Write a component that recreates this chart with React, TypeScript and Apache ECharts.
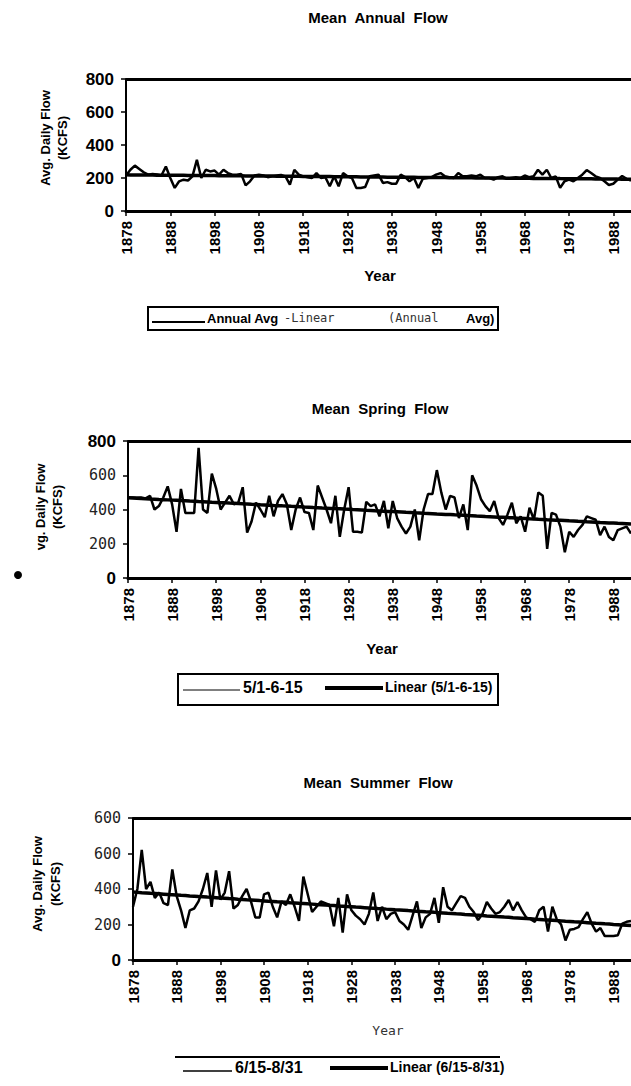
import React, { useEffect, useRef } from "react";
import * as echarts from "echarts";

const FIRST_YEAR = 1878;
const LAST_YEAR = 1992;
const years: string[] = [];
for (let y = FIRST_YEAR; y <= LAST_YEAR; y++) years.push(String(y));

// Mean annual flow (KCFS), 1878-1992
const annualAvg = [
  215, 250, 275, 255, 235, 220, 225, 222, 215, 270,
  200, 140, 180, 190, 185, 210, 310, 200, 250, 240,
  245, 220, 250, 230, 220, 220, 225, 155, 180, 215,
  220, 215, 205, 210, 215, 218, 210, 160, 250, 220,
  210, 205, 200, 230, 200, 205, 150, 210, 150, 230,
  210, 200, 140, 140, 145, 210, 215, 220, 170, 175,
  165, 165, 220, 205, 180, 200, 140, 195, 200, 205,
  220, 230, 210, 205, 200, 230, 210, 210, 215, 210,
  220, 200, 200, 190, 205, 210, 195, 200, 205, 200,
  215, 205, 210, 250, 220, 250, 200, 210, 140, 180,
  190, 180, 200, 220, 248, 230, 210, 200, 180, 158,
  165, 190, 212, 195, 185,
];

// Mean spring flow 5/1-6/15 (KCFS)
const springFlow = [
  470, 470, 468, 470, 465, 480, 400, 420, 470, 535,
  430, 270, 520, 380, 380, 380, 760, 400, 380, 610,
  520, 400, 440, 480, 430, 440, 530, 265, 330, 440,
  400, 355, 480, 360, 450, 490, 430, 280, 400, 470,
  385, 380, 280, 540, 470, 400, 320, 480, 240, 400,
  530, 270, 270, 265, 445, 420, 430, 360, 450, 290,
  450, 350, 300, 260, 300, 400, 220, 400, 490, 490,
  630, 500, 400, 480, 470, 350, 430, 280, 600, 540,
  460, 420, 390, 450, 350, 310, 370, 440, 320, 360,
  270, 410, 340, 500, 480, 170, 380, 370, 300, 150,
  270, 240, 280, 310, 360, 350, 340, 250, 300, 240,
  220, 280, 290, 300, 260,
];

// Mean summer flow 6/15-8/31 (KCFS)
const summerFlow = [
  300, 400, 620, 400, 440, 350, 380, 320, 310, 510,
  360, 280, 180, 280, 290, 330, 400, 490, 300, 505,
  340, 380, 500, 290, 310, 360, 400, 330, 240, 240,
  370, 380, 300, 240, 330, 310, 370, 300, 220, 470,
  370, 270, 300, 330, 320, 310, 190, 350, 155, 370,
  280, 250, 230, 200, 260, 380, 220, 300, 230, 260,
  270, 220, 200, 170, 250, 330, 180, 240, 260, 350,
  210, 410, 300, 280, 320, 360, 350, 300, 270, 225,
  260, 327, 290, 260, 270, 300, 338, 280, 327, 280,
  240, 230, 215, 280, 300, 160, 300, 230, 200, 110,
  170, 175, 185, 230, 270, 205, 160, 180, 135, 135,
  135, 140, 205, 215, 220,
];

const yTicks12 = ["0", "200", "400", "600", "800"];
const yTicks3 = ["0", "200", "400", "600", "600"];

function linearFit(vals: number[]): number[] {
  const n = vals.length;
  let sx = 0, sy = 0, sxy = 0, sxx = 0;
  for (let i = 0; i < n; i++) {
    sx += i; sy += vals[i]; sxy += i * vals[i]; sxx += i * i;
  }
  const slope = (n * sxy - sx * sy) / (n * sxx - sx * sx);
  const icpt = (sy - slope * sx) / n;
  return vals.map((_, i) => +(icpt + slope * i).toFixed(1));
}

const BOLD = "Liberation Sans";
const MONO = "DejaVu Sans Mono";

export default function App() {
  const ref = useRef<HTMLDivElement>(null);
  useEffect(() => {
    if (!ref.current) return;
    const chart = echarts.init(ref.current, null, { renderer: "svg" });

    const grids = [
      { left: 126, top: 79, width: 505, height: 132 },
      { left: 128, top: 441, width: 505, height: 137 },
      { left: 133, top: 818, width: 505, height: 142 },
    ];

    const xAxes = grids.map((_, gi) => ({
      type: "category",
      gridIndex: gi,
      data: years,
      boundaryGap: false,
      axisLine: { show: true, lineStyle: { color: "#000", width: 3 } },
      axisTick: { show: true, interval: 9, length: 5, lineStyle: { color: "#000", width: 1.5 } },
      axisLabel: {
        interval: 9,
        rotate: 90,
        margin: 10,
        color: "#000",
        fontFamily: BOLD,
        fontWeight: "bold",
        fontSize: 15,
      },
      splitLine: { show: false },
    }));

    const yLabelFmt = (gi: number) => (v: number) => {
      const idx = Math.round(v / 200);
      const arr = gi === 2 ? yTicks3 : yTicks12;
      const txt = arr[idx];
      if (gi === 0) return `{b|${txt}}`;
      if (v === 0 || (gi === 1 && v === 800)) return `{b|${txt}}`;
      return `{m|${txt}}`;
    };

    const yAxes = grids.map((_, gi) => ({
      type: "value",
      gridIndex: gi,
      min: 0,
      max: 800,
      interval: 200,
      axisLine: { show: true, lineStyle: { color: "#000", width: 2 } },
      axisTick: { show: true, length: 5, lineStyle: { color: "#000", width: 1.5 } },
      splitLine: { show: false },
      axisLabel: {
        margin: 12,
        formatter: yLabelFmt(gi),
        rich: {
          b: { fontFamily: BOLD, fontWeight: "bold", fontSize: 17, color: "#000" },
          m: { fontFamily: MONO, fontSize: 15, color: "#222" },
        },
      },
    }));

    const datasets = [annualAvg, springFlow, summerFlow];
    const names = [
      ["Annual Avg", "Linear (Annual Avg)"],
      ["5/1-6-15", "Linear (5/1-6-15)"],
      ["6/15-8/31", "Linear (6/15-8/31)"],
    ];
    const series: any[] = [];
    datasets.forEach((d, gi) => {
      series.push({
        type: "line",
        name: names[gi][0],
        xAxisIndex: gi,
        yAxisIndex: gi,
        data: d,
        showSymbol: false,
        lineStyle: { color: "#000", width: 2.5 },
      });
      series.push({
        type: "line",
        name: names[gi][1],
        xAxisIndex: gi,
        yAxisIndex: gi,
        data: linearFit(d),
        showSymbol: false,
        lineStyle: { color: "#000", width: 3.5 },
        markLine: {
          silent: true,
          symbol: "none",
          label: { show: false },
          lineStyle: { color: "#000", width: 3, type: "solid" },
          data: [{ yAxis: 800 }],
        },
      });
    });

    const T = (text: string, x: number, y: number, opts: any = {}) => ({
      type: "text",
      x,
      y,
      rotation: opts.rotation || 0,
      style: {
        text,
        fill: opts.fill || "#000",
        font: opts.font || `bold 14px "${BOLD}"`,
        textAlign: opts.align || "left",
        textVerticalAlign: "middle",
      },
    });
    const L = (x1: number, y1: number, x2: number, y2: number, w: number) => ({
      type: "line",
      shape: { x1, y1, x2, y2 },
      style: { stroke: "#000", lineWidth: w },
    });

    const graphic: any[] = [
      // titles
      T("Mean  Annual  Flow", 378, 17, { align: "center", font: `bold 15px "${BOLD}"` }),
      T("Mean  Spring  Flow", 380, 408, { align: "center", font: `bold 15px "${BOLD}"` }),
      T("Mean  Summer  Flow", 378, 782, { align: "center", font: `bold 15px "${BOLD}"` }),
      // y axis names
      T("Avg. Daily Flow", 45, 138, { align: "center", rotation: Math.PI / 2, font: `bold 13px "${BOLD}"` }),
      T("(KCFS)", 62, 138, { align: "center", rotation: Math.PI / 2, font: `bold 13px "${BOLD}"` }),
      T("vg. Daily Flow", 40, 507, { align: "center", rotation: Math.PI / 2, font: `bold 13px "${BOLD}"` }),
      T("(KCFS)", 57, 507, { align: "center", rotation: Math.PI / 2, font: `bold 13px "${BOLD}"` }),
      { type: "circle", shape: { cx: 18, cy: 575, r: 4 }, style: { fill: "#000" } },
      T("Avg. Daily Flow", 37, 884, { align: "center", rotation: Math.PI / 2, font: `bold 13px "${BOLD}"` }),
      T("(KCFS)", 55, 884, { align: "center", rotation: Math.PI / 2, font: `bold 13px "${BOLD}"` }),
      // x axis names
      T("Year", 380, 275, { align: "center", font: `bold 15px "${BOLD}"` }),
      T("Year", 382, 648, { align: "center", font: `bold 15px "${BOLD}"` }),
      T("Year", 388, 1030, { align: "center", font: `13px "${MONO}"`, fill: "#333" }),
      // legend 1
      {
        type: "rect",
        shape: { x: 148, y: 307, width: 350, height: 23 },
        style: { fill: "none", stroke: "#000", lineWidth: 2 },
      },
      L(152, 322, 205, 322, 2),
      T("Annual Avg", 207, 318, { font: `bold 13px "${BOLD}"` }),
      T("-Linear", 284, 318, { font: `12px "${MONO}"`, fill: "#333" }),
      T("(Annual", 388, 318, { font: `12px "${MONO}"`, fill: "#333" }),
      T("Avg)", 466, 318, { font: `bold 13px "${BOLD}"` }),
      // legend 2
      {
        type: "rect",
        shape: { x: 178, y: 674, width: 320, height: 31 },
        style: { fill: "none", stroke: "#000", lineWidth: 2 },
      },
      L(183, 690, 240, 690, 1),
      T("5/1-6-15", 243, 687, { font: `bold 16px "${BOLD}"` }),
      L(325, 688, 383, 688, 4),
      T("Linear (5/1-6-15)", 385, 687, { font: `bold 14px "${BOLD}"` }),
      // legend 3
      L(175, 1057, 500, 1057, 2),
      L(183, 1071, 232, 1071, 1.5),
      T("6/15-8/31", 235, 1067, { font: `bold 16px "${BOLD}"` }),
      L(330, 1068, 388, 1068, 4),
      T("Linear (6/15-8/31)", 390, 1067, { font: `bold 14px "${BOLD}"` }),
    ];

    chart.setOption({
      animation: false,
      backgroundColor: "#fff",
      grid: grids.map((g) => ({ ...g, containLabel: false })),
      xAxis: xAxes,
      yAxis: yAxes,
      series,
      graphic,
    });
    return () => chart.dispose();
  }, []);

  return (
    <div
      ref={ref}
      style={{ position: "absolute", left: 0, top: 0, width: 631, height: 1086 }}
    />
  );
}
